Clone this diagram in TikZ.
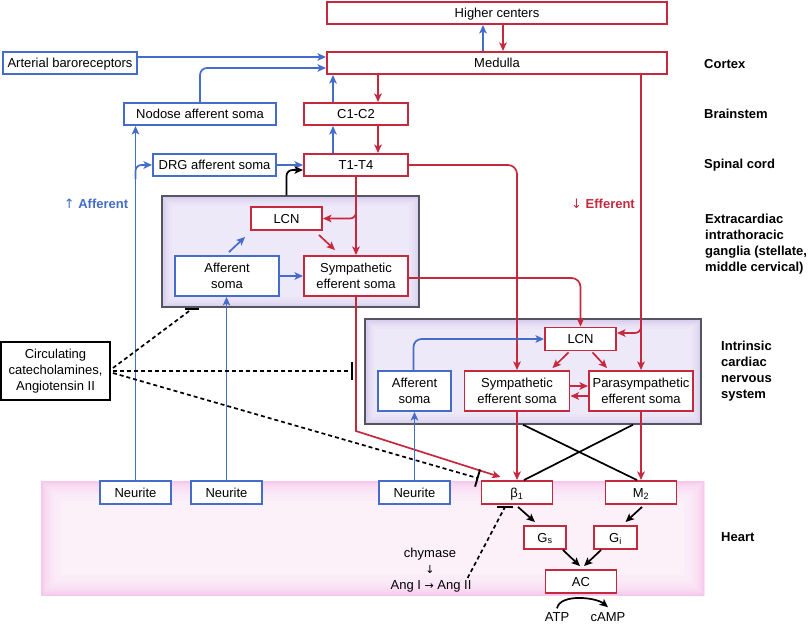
\documentclass[tikz,border=0pt]{standalone}
\usepackage{fontspec}
\setmainfont{Liberation Sans}
\newfontfamily\symfont{DejaVu Sans}
\usetikzlibrary{arrows.meta,calc}
\definecolor{myred}{RGB}{198,40,62}
\definecolor{myblue}{RGB}{68,108,200}
\definecolor{panelfill}{RGB}{238,233,248}
\definecolor{paneledge}{RGB}{210,198,236}
\definecolor{panelline}{RGB}{85,85,95}
\definecolor{heartfill}{RGB}{252,240,249}
\definecolor{heartedge}{RGB}{245,200,236}
\begin{document}
\begin{tikzpicture}[x=1pt,y=-1pt,
  font=\fontsize{13}{16}\selectfont,
  box/.style={draw, line width=1.9pt, fill=white, inner sep=0pt, align=center},
  rbox/.style={box, draw=myred},
  bbox/.style={box, draw=myblue},
  kbox/.style={box, draw=black},
  sl/.style={text height=11.6pt, text depth=2.6pt},
  wh/.style 2 args={minimum width=#1pt, minimum height=#2pt},
  panel/.style={draw=panelline, line width=1.4pt, fill=panelfill, inner sep=0pt,
    path picture={
      \foreach \w/\c in {20/15,14/30,9/50,5/75,2/100}{
      \draw[paneledge!\c!panelfill, line width=\w pt] (path picture bounding box.south west) rectangle (path picture bounding box.north east);}}},
  heart/.style={fill=heartfill, inner sep=0pt,
    path picture={
      \foreach \w/\c in {40/8,32/16,26/25,20/35,15/48,10/62,6/78,3/100}{
      \draw[heartedge!\c!heartfill, line width=\w pt] (path picture bounding box.south west) rectangle (path picture bounding box.north east);}}},
  conn/.style={line width=1.7pt, -{Stealth[length=8.5pt,width=7.5pt,inset=2pt]}},
  rarr/.style={conn, draw=myred},
  barr/.style={conn, draw=myblue},
  karr/.style={conn, draw=black},
  kline/.style={line width=1.7pt, draw=black},
  dsh/.style={line width=1.7pt, draw=black, dash pattern=on 4pt off 3pt},
  tbar/.style={line width=1.9pt, draw=black},
  lab/.style={font=\fontsize{13}{16}\selectfont\bfseries, align=left, inner sep=0pt, anchor=west},
  txt/.style={inner sep=0pt}
]
\path[use as bounding box] (0,0) rectangle (810,627);

% backgrounds
\node[heart, wh={663}{114}] (heartband) at (372.5,538) {};
\node[panel, wh={257}{111}] (p1) at (290.5,251.5) {};
\node[panel, wh={336}{105}] (p2) at (533,371.5) {};

% top nodes
\node[rbox, sl, wh={340}{22}] (higher) at (497,13) {Higher centers};
\node[rbox, sl, wh={340}{22}] (medulla) at (497,63) {Medulla};
\node[bbox, sl, wh={134}{22}] (art) at (70,63) {Arterial baroreceptors};
\node[bbox, sl, wh={152}{22}] (nodose) at (200,114) {Nodose afferent soma};
\node[rbox, sl, wh={104}{22}] (c1c2) at (356,114) {C1-C2};
\node[bbox, sl, wh={123}{22}] (drg) at (214.5,165) {DRG afferent soma};
\node[rbox, sl, wh={104}{22}] (t1t4) at (356,165) {T1-T4};

% extracardiac ganglia
\node[rbox, sl, wh={71}{23}] (lcn1) at (286.5,218.5) {LCN};
\node[bbox, wh={104}{40}] (aff1) at (227,276) {Afferent\\soma};
\node[rbox, wh={104}{40}] (sym1) at (356,276) {Sympathetic\\efferent soma};

% intrinsic cardiac nervous system
\node[rbox, sl, wh={71}{23}] (lcn2) at (580.5,339) {LCN};
\node[bbox, wh={73}{40}] (aff2) at (414.5,391) {Afferent\\soma};
\node[rbox, wh={105}{40}] (sym2) at (517,391) {Sympathetic\\efferent soma};
\node[rbox, wh={104}{40}] (para2) at (641,391) {Parasympathetic\\efferent soma};

\node[kbox, wh={109}{58}] (circ) at (55.5,371) {Circulating\\catecholamines,\\Angiotensin II};

% heart
\node[bbox, sl, wh={71}{23}] (n1) at (135.5,492.5) {Neurite};
\node[bbox, sl, wh={71}{23}] (n2) at (226.5,492.5) {Neurite};
\node[bbox, sl, wh={71}{23}] (n3) at (414.5,492.5) {Neurite};
\node[rbox, sl, wh={71}{23}] (b1) at (517,492.5) {β\textsubscript{1}};
\node[rbox, sl, wh={71}{23}] (m2) at (641,492.5) {M\textsubscript{2}};
\node[rbox, sl, wh={42}{23}] (gs) at (545,537.5) {G\textsubscript{s}};
\node[rbox, sl, wh={43}{23}] (gi) at (615.5,537.5) {G\textsubscript{i}};
\node[rbox, sl, wh={71}{23}] (ac) at (581,581.5) {AC};
\node[txt] (atp) at (557,617) {ATP};
\node[txt] (camp) at (608,617) {cAMP};
\node[txt] (chym) at (430,554) {chymase};
\node[txt] (darr) at (430,569) {{\symfont\fontsize{11}{13}\selectfont ↓}};
\node[txt] (ang) at (431,586) {Ang I {\symfont\fontsize{11}{13}\selectfont →} Ang II};

% side labels
\node[lab] at (704,64) {Cortex};
\node[lab] at (704,114) {Brainstem};
\node[lab] at (704,165) {Spinal cord};
\node[lab] at (705,244) {Extracardiac\\intrathoracic\\ganglia (stellate,\\middle cervical)};
\node[lab] at (721,371.5) {Intrinsic\\cardiac\\nervous\\system};
\node[lab] at (721,537) {Heart};
\node[txt, text=myblue, font=\fontsize{13}{16}\selectfont\bfseries] (affl) at (96,204) {{\normalfont\symfont ↑} Afferent};
\node[txt, text=myred, font=\fontsize{13}{16}\selectfont\bfseries] (effl) at (603,204) {{\normalfont\symfont ↓} Efferent};

% connectors: top
\draw[barr] ($(medulla.north)+(-14,0)$) -- ($(higher.south)+(-14,0)$);
\draw[rarr] ($(higher.south)+(6,0)$) -- ($(medulla.north)+(6,0)$);
\draw[barr] ($(art.east)+(0,-6)$) -- ($(art.east -| medulla.west)+(0,-6)$);
\draw[barr, rounded corners=7pt] (nodose.north) |- ($(medulla.west)+(0,5)$);
\draw[rarr] ($(c1c2.north |- medulla.south)+(22,0)$) -- ($(c1c2.north)+(22,0)$);
\draw[barr] ($(c1c2.north)+(-23,0)$) -- ($(c1c2.north |- medulla.south)+(-23,0)$);
\draw[rarr] ($(c1c2.south)+(22,0)$) -- ($(t1t4.north)+(22,0)$);
\draw[barr] ($(t1t4.north)+(-23,0)$) -- ($(c1c2.south)+(-23,0)$);
\draw[barr] (drg.east) -- (t1t4.west);
\draw[barr] (n1.north) -- (n1.north |- nodose.south);
\draw[barr, rounded corners=6pt] ($(n1.north |- drg.west)+(0,14)$) |- (drg.west);
\draw[karr, rounded corners=6pt] (p1.north -| lcn1.north) |- ($(t1t4.west)+(0,5)$);

% extracardiac
\draw[rarr] (t1t4.south) -- (sym1.north);
\draw[rarr, rounded corners=6pt] ($(t1t4.south |- lcn1.north)+(0,-4)$) |- (lcn1.east);
\draw[rarr, rounded corners=9pt] (t1t4.east) -| (sym2.north);
\draw[rarr] (para2.north |- medulla.south) -- (para2.north);
\draw[rarr, rounded corners=6pt] ($(para2.north |- lcn2.north)+(0,-4)$) |- ($(lcn2.east)+(0,-6)$);
\draw[rarr, rounded corners=9pt] ($(sym1.east)+(0,2)$) -| (lcn2.north);
\draw[rarr] ($(lcn1.south east)+(-4,4)$) -- ($(sym1.north west)+(32,-5)$);
\draw[barr] ($(aff1.north)+(2,-3)$) -- ($(lcn1.south west)+(-5,6)$);
\draw[barr] (aff1.east) -- (sym1.west);
\draw[barr] (n2.north) -- (n2.north |- aff1.south);
\draw[rarr] (sym1.south) -- ($(sym1.south |- b1.north)+(0,-49)$) -- ($(b1.north west)+(20,-3)$);

% intrinsic
\draw[rarr] (sym2.south) -- (b1.north);
\draw[rarr] (para2.south) -- (m2.north);
\draw[kline] ($(p2.south)+(-10,0)$) -- ($(m2.north)+(-4,0)$);
\draw[kline] ($(p2.south)+(100,0)$) -- ($(b1.north)+(7,0)$);
\draw[barr, rounded corners=8pt] ($(aff2.north)+(-1,0)$) |- (lcn2.west);
\draw[barr] (n3.north) -- (n3.north |- aff2.south);
\draw[rarr] ($(sym2.east)+(0,-5)$) -- ($(para2.west)+(0,-5)$);
\draw[rarr] ($(para2.west)+(0,5)$) -- ($(sym2.east)+(0,5)$);
\draw[rarr] ($(lcn2.south)+(-12,1)$) -- ($(sym2.north east)+(-18,-2)$);
\draw[rarr] ($(lcn2.south)+(12,1)$) -- ($(para2.north west)+(19,-2)$);

% heart signalling
\draw[karr] ($(b1.south)+(1,2)$) -- ($(gs.north)+(-10,-3)$);
\draw[karr] ($(m2.south)+(1,2)$) -- ($(gi.north)+(10,-3)$);
\draw[karr] ($(gs.south east)+(-4,0)$) -- ($(ac.north)+(-1,-3)$);
\draw[karr] ($(gi.south west)+(8,0)$) -- ($(ac.north)+(3,-3)$);
\draw[karr] ($(atp.north)+(0,-4)$) .. controls +(3,-15) and +(-12,-10) .. ($(camp.north)+(0,-5)$);

% dashed inhibitory lines
\coordinate (e1) at ($(p1.south west)+(31,1)$);
\draw[dsh] ($(circ.east)+(2,-3)$) -- (e1);
\draw[tbar] ($(e1)+(-7,0)$) -- ($(e1)+(7,0)$);
\coordinate (e2) at ($(circ.east -| p2.west)+(-12,0)$);
\draw[dsh] ($(circ.east)+(2,0)$) -- (e2);
\draw[tbar] ($(e2)+(0,-9)$) -- ($(e2)+(0,9)$);
\coordinate (e3) at ($(b1.north west)+(-3,-2)$);
\draw[dsh] ($(circ.east)+(2,2)$) -- (e3);
\draw[tbar] ($(e3)+(2.5,-8.6)$) -- ($(e3)+(-2.5,8.6)$);
\coordinate (e4) at ($(b1.south)+(-12,2)$);
\draw[dsh] ($(ang.north east)+(-4,-2)$) -- (e4);
\draw[tbar] ($(e4)+(-8,0)$) -- ($(e4)+(8,0)$);
\end{tikzpicture}
\end{document}
